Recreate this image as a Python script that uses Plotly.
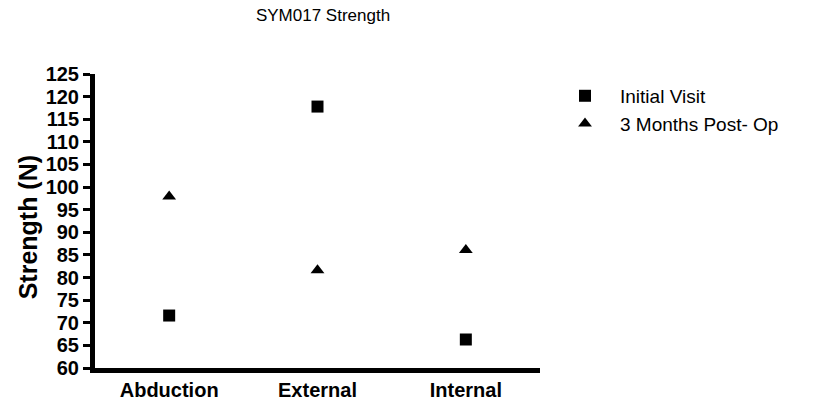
import plotly.graph_objects as go

categories = ["Abduction", "External", "Internal"]
initial_visit = [71.6, 117.8, 66.3]
post_op_3m = [97.9, 81.6, 86.1]
y_ticks = list(range(60, 130, 5))

FONT = "Arial, 'Liberation Sans', sans-serif"

W, H = 822, 413
L, R_EDGE, T, B_EDGE = 95, 540, 74, 375
PW, PH = R_EDGE - L, B_EDGE - T

fig = go.Figure()
fig.add_trace(go.Scatter(
    x=categories, y=initial_visit, mode="markers", name="Initial Visit",
    marker=dict(symbol="square", size=12, color="black"),
))
fig.add_trace(go.Scatter(
    x=categories, y=post_op_3m, mode="markers", name="3 Months Post- Op",
    marker=dict(symbol="triangle-up", size=12, color="black"),
))

fig.update_layout(
    width=W, height=H,
    margin=dict(l=L, r=W - R_EDGE, t=T, b=H - B_EDGE),
    paper_bgcolor="white", plot_bgcolor="white",
    font=dict(family=FONT, color="black"),
    title=dict(text="SYM017 Strength", x=323/W, xanchor="center",
               y=1 - 15/H, yanchor="middle", yref="container",
               font=dict(size=17, family=FONT, color="black")),
    showlegend=True,
    legend=dict(x=(550 - L)/PW, xanchor="left", y=(B_EDGE - 77)/PH, yanchor="top",
                itemwidth=60,
                font=dict(size=19, family=FONT, color="black"),
                bgcolor="rgba(0,0,0,0)", tracegroupgap=0),
    annotations=[dict(text="Strength (N)", textangle=-90, xref="paper", yref="paper",
                      x=(28 - L)/PW, y=(B_EDGE - 231)/PH, xanchor="center", yanchor="middle",
                      showarrow=False,
                      font=dict(size=25, family=FONT, color="black", weight="bold"))],
)
fig.update_xaxes(
    type="category", range=[-0.5, 2.5], showline=True, linecolor="black", linewidth=5,
    ticks="", showgrid=False, zeroline=False,
    tickfont=dict(size=20, family=FONT, color="black", weight="bold"),
)
fig.update_yaxes(
    range=[60, 125], tickmode="array", tickvals=y_ticks, ticktext=[str(v) for v in y_ticks],
    showline=True, linecolor="black", linewidth=5,
    ticks="outside", ticklen=7, tickwidth=3, tickcolor="black",
    showgrid=False, zeroline=False,
    tickfont=dict(size=20, family=FONT, color="black", weight="bold"),
)

fig.write_html("out.html", config={"displayModeBar": False},
               post_script="document.body.style.margin='0';")
